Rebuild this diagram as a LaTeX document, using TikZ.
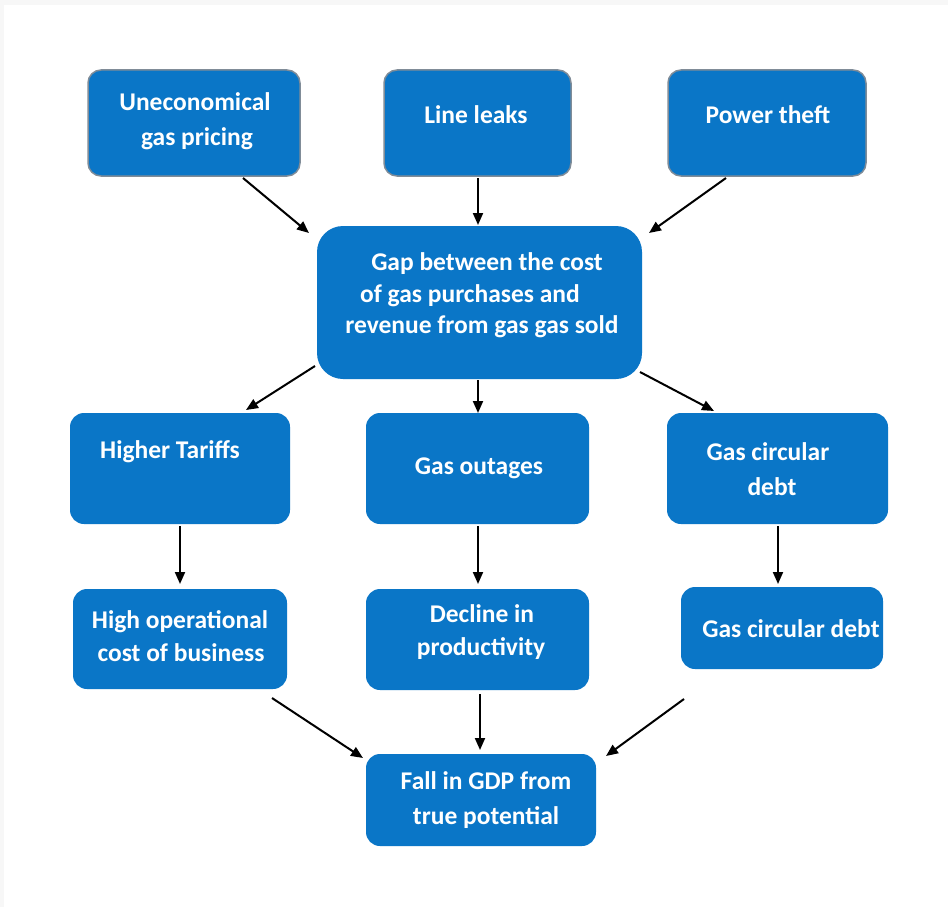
\documentclass[tikz,border=0pt]{standalone}
\usepackage{fontspec}
\setmainfont{Carlito}
\usetikzlibrary{arrows.meta}
\definecolor{boxblue}{RGB}{10,118,199}
\definecolor{boxedge}{RGB}{128,140,152}
\definecolor{framegray}{RGB}{247,247,247}
\tikzset{
  box/.style={fill=boxblue, draw=none, rounded corners=#1, inner sep=0pt},
  box/.default=14pt,
  topbox/.style={fill=boxblue, draw=boxedge, line width=1.5pt, rounded corners=13pt, inner sep=0pt},
  txt/.style={text=white, font=\fontsize{25.5}{30}\selectfont\bfseries, anchor=mid, inner sep=0pt, yshift=-6pt},
  arr/.style={-{Triangle[length=12pt,width=10pt]}, line width=2pt, black}
}
\newcommand{\bx}[6]{% name, style, x1,y1,x2,y2
  \path (#3,#4) coordinate (#1-nw) (#5,#6) coordinate (#1-se);
  \node[#2, minimum width={#5pt-#3pt}, minimum height={#6pt-#4pt}] (#1) at ({(#3+#5)/2},{(#4+#6)/2}) {};
}
\begin{document}
\begin{tikzpicture}[x=1pt,y=-1pt]
\fill[framegray] (0,0) rectangle (948,907);
\fill[white] (4,5) rectangle (948,907);
\useasboundingbox (0,0) rectangle (948,907);

% top boxes
\bx{unec}{topbox}{88}{70}{300}{176}
\bx{leak}{topbox}{384}{70}{571}{176}
\bx{theft}{topbox}{668}{70}{866}{176}
% center
\bx{gap}{box=26pt}{317}{226}{642}{379}
% row 2
\bx{tariff}{box}{70}{413}{290}{524}
\bx{outage}{box}{366}{413}{589}{524}
\bx{debtA}{box}{667}{413}{888}{524}
% row 3
\bx{cost}{box}{73}{589}{287}{689}
\bx{decl}{box}{366}{589}{589}{690}
\bx{debtB}{box}{681}{587}{883}{669}
% bottom
\bx{gdp}{box}{366}{754}{596}{846}

% texts
\node[txt] (t1a) at (195,102) {Uneconomical};
\node[txt] (t1b) at (197,137) {gas pricing};
\node[txt] (t2) at (476,115) {Line leaks};
\node[txt] (t3) at (768,115) {Power theft};
\node[txt] (t4a) at (487,262) {Gap between the cost};
\node[txt] (t4b) at (470,294) {of gas purchases and};
\node[txt] (t4c) at (482,325) {revenue from gas gas sold};
\node[txt] (t5) at (170,450) {Higher Tariffs};
\node[txt] (t6) at (479,466) {Gas outages};
\node[txt] (t7a) at (768,452) {Gas circular};
\node[txt] (t7b) at (772,487) {debt};
\node[txt] (t8a) at (180,620) {High operational};
\node[txt] (t8b) at (181,653) {cost of business};
\node[txt] (t9a) at (482,614) {Decline in};
\node[txt] (t9b) at (481,647) {productivity};
\node[txt] (t10) at (791,629) {Gas circular debt};
\node[txt] (t11a) at (486,781) {Fall in GDP from};
\node[txt] (t11b) at (486,816) {true potential};

% connector end points
\coordinate (a1s) at (243,178); \coordinate (a1e) at (309,233);
\coordinate (a2s) at (478,178); \coordinate (a2e) at (478,225);
\coordinate (a3s) at (726,178); \coordinate (a3e) at (649,233);
\coordinate (b1s) at (315,366); \coordinate (b1e) at (246,410);
\coordinate (b2s) at (478,380); \coordinate (b2e) at (478,413);
\coordinate (b3s) at (640,372); \coordinate (b3e) at (714,411);
\coordinate (c1s) at (180,526); \coordinate (c1e) at (180,584);
\coordinate (c2s) at (478,526); \coordinate (c2e) at (478,584);
\coordinate (c3s) at (778,526); \coordinate (c3e) at (778,584);
\coordinate (d1s) at (272,698); \coordinate (d1e) at (363,758);
\coordinate (d2s) at (480,694); \coordinate (d2e) at (480,750);
\coordinate (d3s) at (684,699); \coordinate (d3e) at (606,756);

\draw[arr] (a1s) -- (a1e);
\draw[arr] (a2s) -- (a2e);
\draw[arr] (a3s) -- (a3e);
\draw[arr] (b1s) -- (b1e);
\draw[arr] (b2s) -- (b2e);
\draw[arr] (b3s) -- (b3e);
\draw[arr] (c1s) -- (c1e);
\draw[arr] (c2s) -- (c2e);
\draw[arr] (c3s) -- (c3e);
\draw[arr] (d1s) -- (d1e);
\draw[arr] (d2s) -- (d2e);
\draw[arr] (d3s) -- (d3e);
\end{tikzpicture}
\end{document}
